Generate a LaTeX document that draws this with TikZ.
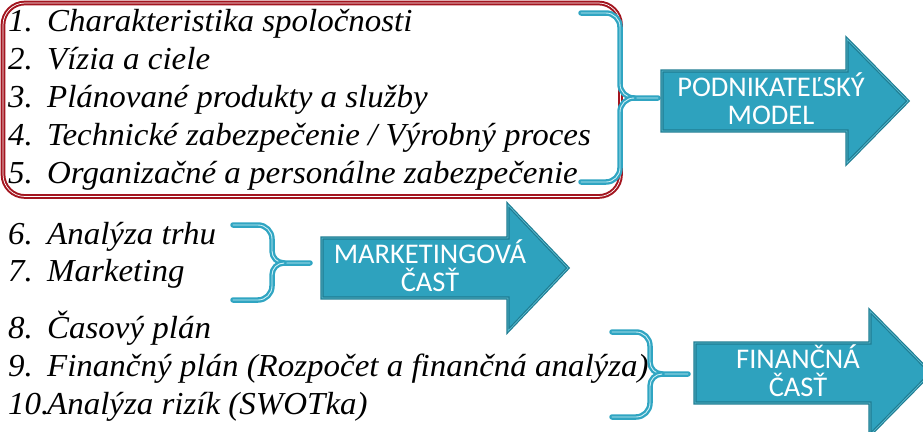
\documentclass[tikz,border=0pt]{standalone}
\usepackage{fontspec}
\setmainfont{Liberation Serif}[FakeStretch=1.03]
\newfontfamily\carl{Carlito}
\definecolor{tealfill}{HTML}{2EA2BE}
\definecolor{tealdark}{HTML}{1F7D92}
\definecolor{teallight}{HTML}{5BBCD3}
\definecolor{bracet}{HTML}{30A5C2}
\definecolor{bracein}{HTML}{CDEFF6}
\definecolor{boxred}{HTML}{A3151F}
\begin{document}
\begin{tikzpicture}[x=1pt,y=-1pt,
  itemtext/.style={anchor=base west,inner sep=0pt,font=\itshape\fontsize{32}{36}\selectfont},
  arrowshape/.style={fill=tealfill,draw=tealdark,double=teallight,line width=1.2pt,double distance=0.7pt,line join=miter},
  arrtext/.style={align=center,text=white,inner sep=0pt,font=\carl\fontsize{28.5}{28}\selectfont},
  bracestyle/.style={draw=bracet,double=bracein,line width=2.3pt,double distance=0.9pt,line cap=round},
  redbox/.style={draw=boxred,double=white,line width=2pt,double distance=0.7pt,rounded corners=22pt}]
\useasboundingbox (0,0) rectangle (923,431);
% red frame
\draw[redbox] (3,3) rectangle (620.5,196.5);
% items
\node[itemtext] (l1) at (8,31) {\makebox[39pt][l]{1.}Charakteristika spoločnosti};
\node[itemtext] (l2) at (8,69) {\makebox[39pt][l]{2.}Vízia a ciele};
\node[itemtext] (l3) at (8,107) {\makebox[39pt][l]{3.}Plánované produkty a služby};
\node[itemtext] (l4) at (8,145) {\makebox[39pt][l]{4.}Technické zabezpečenie / Výrobný proces};
\node[itemtext] (l5) at (8,183) {\makebox[39pt][l]{5.}Organizačné a personálne zabezpečenie};
\node[itemtext] (l6) at (8,244) {\makebox[39pt][l]{6.}Analýza trhu};
\node[itemtext] (l7) at (8,281) {\makebox[39pt][l]{7.}Marketing};
\node[itemtext] (l8) at (8,338) {\makebox[39pt][l]{8.}Časový plán};
\node[itemtext] (l9) at (8,376) {\makebox[39pt][l]{9.}Finančný plán (Rozpočet a finančná analýza)};
\node[itemtext] (l10) at (8,414) {\makebox[39pt][l]{10.}Analýza rizík (SWOTka)};
% braces
\draw[bracestyle] (581,13) -- (606,13) to[out=0,in=90] (620,27) -- (620,84) to[out=-90,in=180] (634,98) -- (658,98);
\draw[bracestyle] (581,182) -- (606,182) to[out=0,in=-90] (620,168) -- (620,112) to[out=90,in=180] (634,98);
\draw[bracestyle] (233,225) -- (258,225) to[out=0,in=90] (272,239) -- (272,251) to[out=-90,in=180] (284,263) -- (310,263);
\draw[bracestyle] (233,300) -- (258,300) to[out=0,in=-90] (272,286) -- (272,275) to[out=90,in=180] (284,263);
\draw[bracestyle] (612,332) -- (636,332) to[out=0,in=90] (650,346) -- (650,362) to[out=-90,in=180] (662,374) -- (688,374);
\draw[bracestyle] (612,417) -- (636,417) to[out=0,in=-90] (650,403) -- (650,386) to[out=90,in=180] (662,374);
% arrows
\draw[arrowshape] (662,71) -- (847,71) -- (847,39) -- (908,101) -- (847,163) -- (847,131) -- (662,131) -- cycle;
\draw[arrowshape] (322,238) -- (508,238) -- (508,205) -- (568,268) -- (508,331) -- (508,298) -- (322,298) -- cycle;
\draw[arrowshape] (695,343) -- (870,343) -- (870,311) -- (931,373) -- (870,435) -- (870,403) -- (695,403) -- cycle;
\node[arrtext] (t1) at (771,99) {PODNIKATEĽSKÝ\\MODEL};
\node[arrtext] (t2) at (430,266) {MARKETINGOVÁ\\ČASŤ};
\node[arrtext] (t3) at (798,371) {FINANČNÁ\\ČASŤ};
\end{tikzpicture}
\end{document}
